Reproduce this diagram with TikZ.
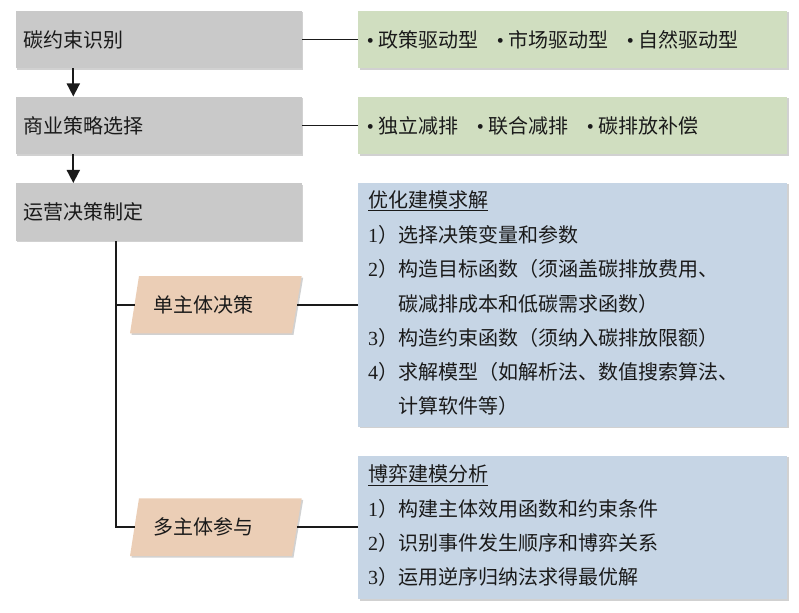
\documentclass[tikz,border=0pt]{standalone}
\usepackage{fontspec}
\setmainfont{Liberation Serif}
\newfontfamily\cjk{Noto Sans CJK SC}
\usetikzlibrary{arrows.meta,shadows}
\definecolor{boxgray}{HTML}{C9C9C9}
\definecolor{boxgreen}{HTML}{D0DEC0}
\definecolor{boxblue}{HTML}{C6D5E5}
\definecolor{boxpeach}{HTML}{EBCEB6}
\definecolor{ink}{HTML}{1A1A1A}
\newcommand\mybul{{\rmfamily\textbullet}\hspace{4.5pt}}
\newcommand\mydg[1]{{\rmfamily #1}}
\newcommand\myind{\phantom{\mydg{2}）}}
\tikzset{
  shadowy/.style={drop shadow={shadow xshift=1.5pt,shadow yshift=-1.5pt,opacity=0.18,fill=black}},
  graybox/.style={fill=boxgray,minimum width=286pt,minimum height=57.6pt,inner xsep=8pt,inner ysep=0pt,text width=270pt,align=left,shadowy},
  greenbox/.style={fill=boxgreen,minimum width=429pt,minimum height=57.6pt,shadowy},
  bluebox/.style={fill=boxblue,minimum width=429pt,shadowy},
  conn/.style={line width=1.7pt,draw=ink},
  txt/.style={anchor=west,inner sep=0pt},
}
\begin{document}
\begin{tikzpicture}[x=1pt,y=-1pt,every node/.style={font=\cjk\fontsize{20}{22}\selectfont,text=ink}]
\useasboundingbox (0,0) rectangle (799,612);
% left boxes
\node[graybox] (b1) at (158.7,39.5) {碳约束识别};
\node[graybox] (b2) at (158.7,125.5) {商业策略选择};
\node[graybox] (b3) at (158.7,212) {运营决策制定};
% green boxes
\node[greenbox] (g1) at (572.8,39.5) {};
\node[greenbox] (g2) at (572.8,125.5) {};
\node[txt] (g1t) at (366.6,39.5) {\makebox[130pt][l]{\mybul 政策驱动型}\makebox[130pt][l]{\mybul 市场驱动型}\mybul 自然驱动型};
\node[txt] (g2t) at (366.6,125.5) {\makebox[110pt][l]{\mybul 独立减排}\makebox[110pt][l]{\mybul 联合减排}\mybul 碳排放补偿};
% blue boxes
\node[bluebox,minimum height=244pt] (bl1) at (572.5,304.7) {};
\node[bluebox,minimum height=143.6pt] (bl2) at (572.5,527.5) {};
\node[txt] (t10) at (368,200.7) {\underline{优化建模求解}};
\node[txt] (t11) at (368,235) {\mydg{1}）选择决策变量和参数};
\node[txt] (t12) at (368,269.3) {\mydg{2}）构造目标函数（须涵盖碳排放费用、};
\node[txt] (t13) at (368,303.5) {\myind 碳减排成本和低碳需求函数）};
\node[txt] (t14) at (368,338) {\mydg{3}）构造约束函数（须纳入碳排放限额）};
\node[txt] (t15) at (368,372) {\mydg{4}）求解模型（如解析法、数值搜索算法、};
\node[txt] (t16) at (368,406) {\myind 计算软件等）};
\node[txt] (t20) at (368,475) {\underline{博弈建模分析}};
\node[txt] (t21) at (368,508.5) {\mydg{1}）构建主体效用函数和约束条件};
\node[txt] (t22) at (368,543) {\mydg{2}）识别事件发生顺序和博弈关系};
\node[txt] (t23) at (368,577) {\mydg{3}）运用逆序归纳法求得最优解};
% parallelograms
\fill[boxpeach,shadowy] (139,276) -- (301.7,276) -- (292,333.3) -- (130,333.3) -- cycle;
\fill[boxpeach,shadowy] (139,498.3) -- (301.7,498.3) -- (292,556) -- (130,556) -- cycle;
\coordinate (p1w) at (134.5,304.7);
\coordinate (p1e) at (296.8,304.7);
\coordinate (p2w) at (134.5,527.2);
\coordinate (p2e) at (296.8,527.2);
\node[txt] (p1) at (153,304.7) {单主体决策};
\node[txt] (p2) at (153,527.2) {多主体参与};
% connectors
\coordinate (ax) at (73.3,0);
\coordinate (vx) at (115.7,0);
\draw[conn] (b1.east) -- (g1.west);
\draw[conn] (b2.east) -- (g2.west);
\draw[conn,-{Triangle[width=13pt,length=13pt]}] (b1.south -| ax) -- (b2.north -| ax);
\draw[conn,-{Triangle[width=13pt,length=13pt]}] (b2.south -| ax) -- (b3.north -| ax);
\draw[conn] (b3.south -| vx) |- (p2w);
\draw[conn] (vx |- p1w) -- (p1w);
\draw[conn] (p1e) -- (bl1.west |- p1e);
\draw[conn] (p2e) -- (bl2.west |- p2e);
\end{tikzpicture}
\end{document}
